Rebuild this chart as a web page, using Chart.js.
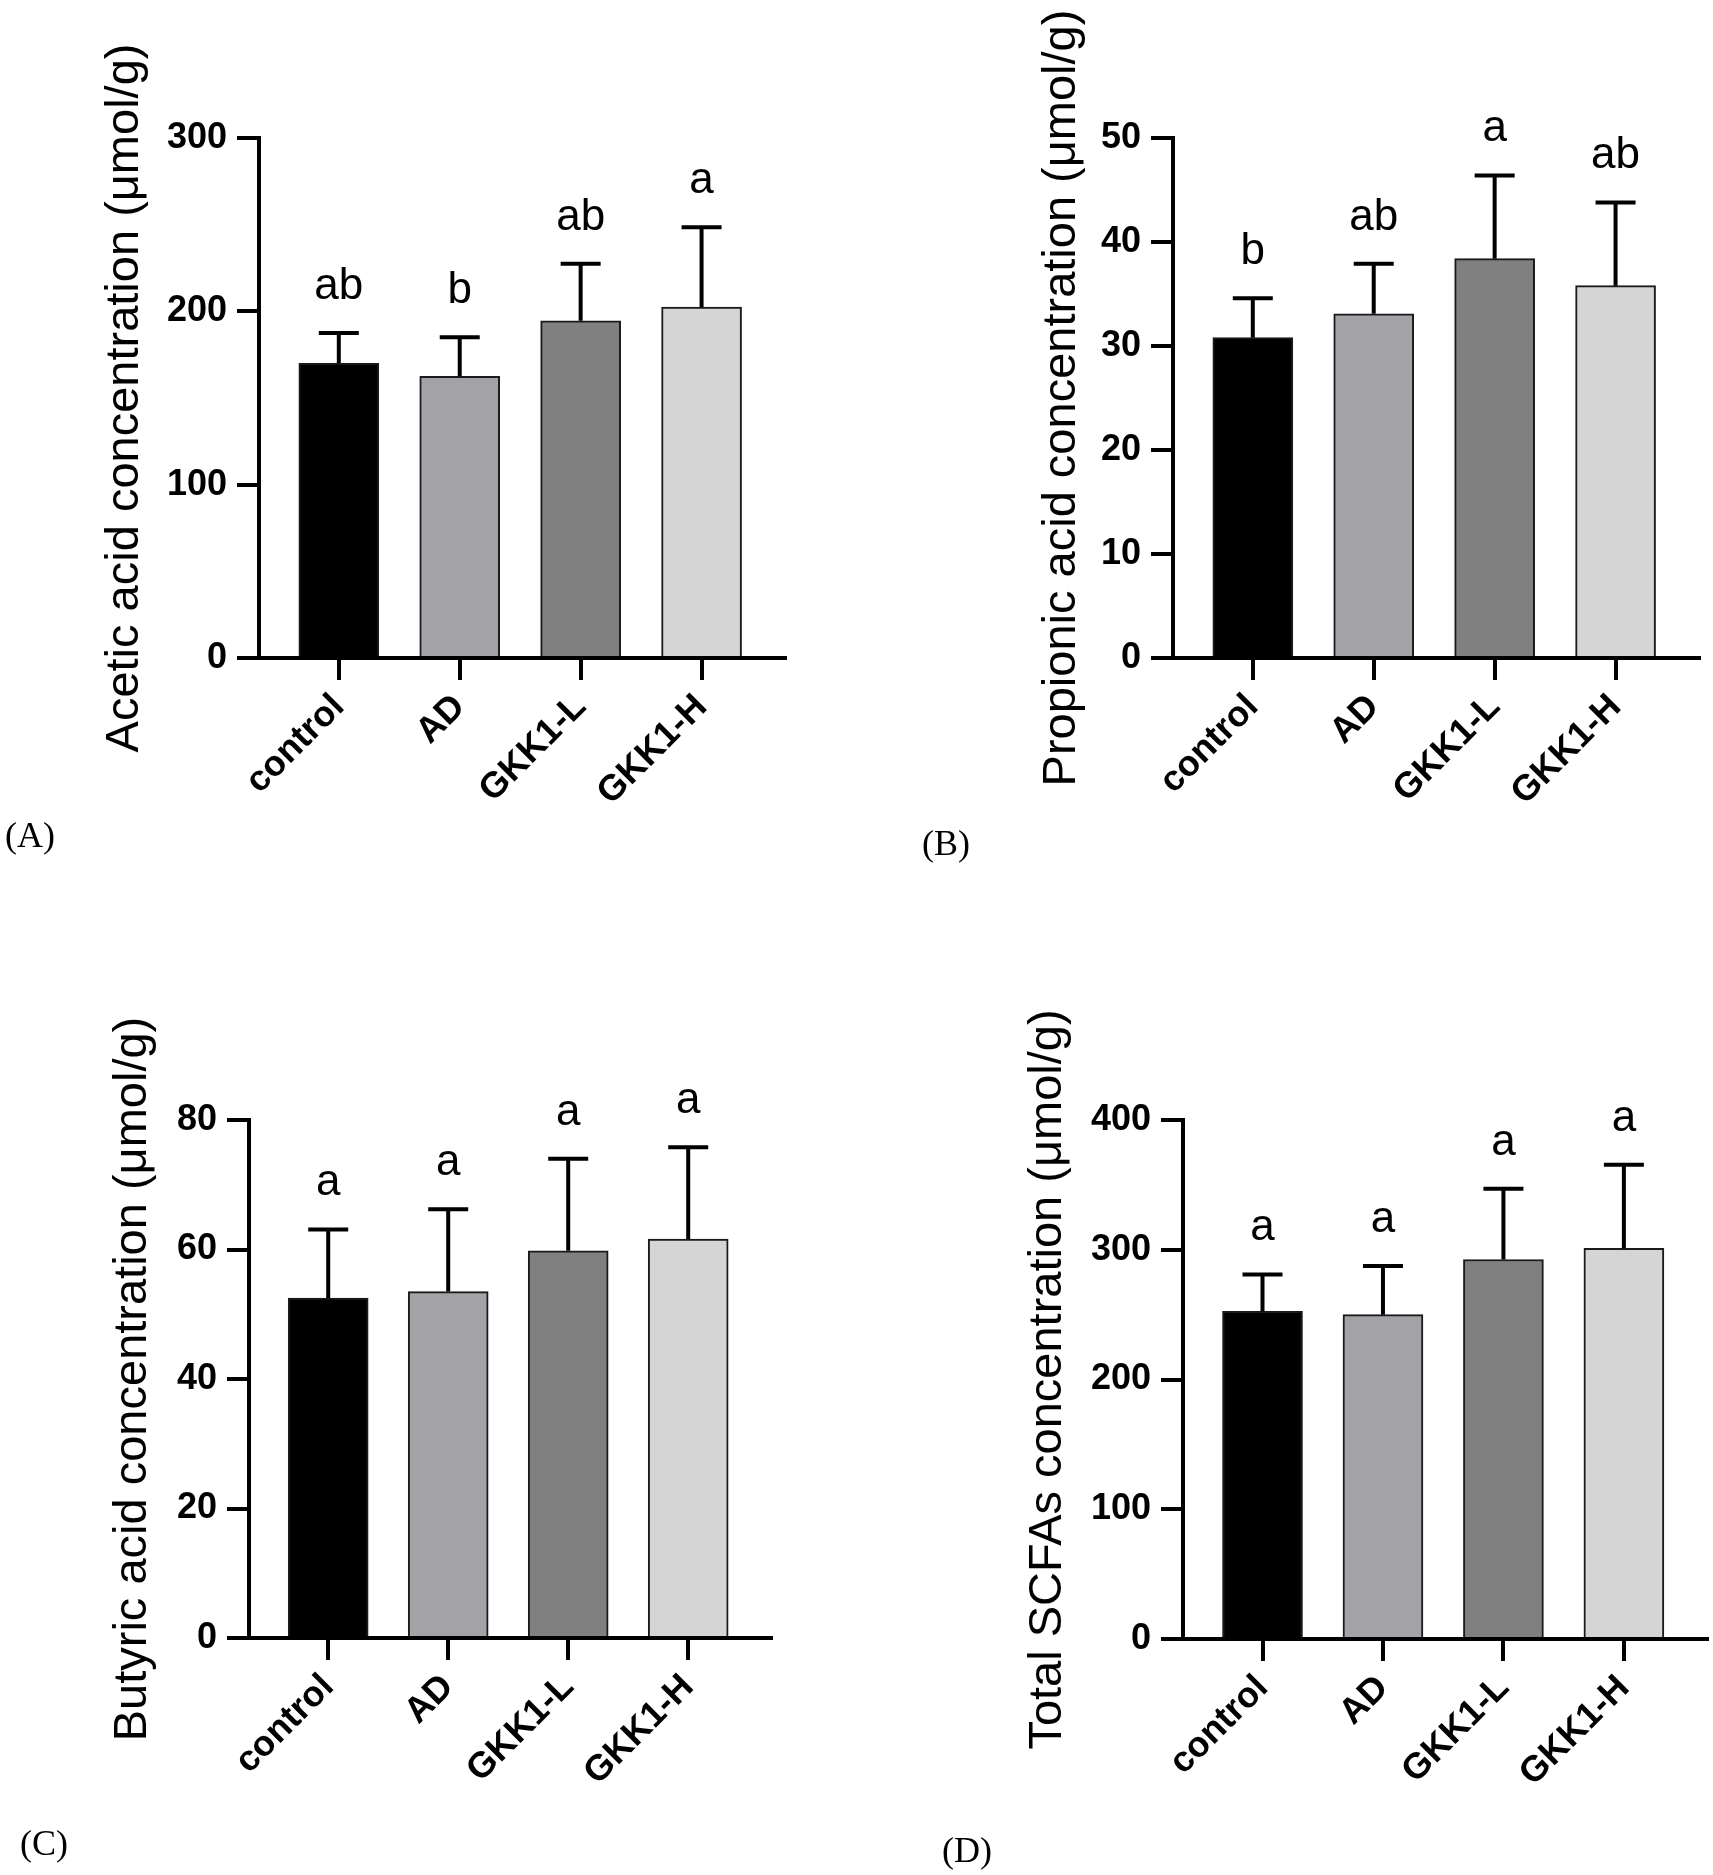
<!DOCTYPE html>
<html>
<head>
<meta charset="utf-8">
<script src="https://cdn.jsdelivr.net/npm/chart.js@4.4.1/dist/chart.umd.min.js"></script>
<style>
  html, body { margin: 0; padding: 0; background: #fff; }
  body { width: 1713px; height: 1875px; position: relative; overflow: hidden; }
  .panel { position: absolute; }
  .tag { position: absolute; font-family: "Liberation Serif", "Times New Roman", serif; font-size: 36px; line-height: 36px; color: #000; }
</style>
</head>
<body>
<div class="panel" style="left:0;top:0;width:856px;height:900px"><canvas id="chartA"></canvas></div>
<div class="panel" style="left:856px;top:0;width:857px;height:900px"><canvas id="chartB"></canvas></div>
<div class="panel" style="left:0;top:930px;width:856px;height:945px"><canvas id="chartC"></canvas></div>
<div class="panel" style="left:856px;top:930px;width:857px;height:945px"><canvas id="chartD"></canvas></div>
<div class="tag" style="left:5px;top:817px">(A)</div>
<div class="tag" style="left:922px;top:825px">(B)</div>
<div class="tag" style="left:20px;top:1825px">(C)</div>
<div class="tag" style="left:942px;top:1832px">(D)</div>
<script>
const categories = ["control", "AD", "GKK1-L", "GKK1-H"];
const barColors = ["#000000", "#a3a3a7", "#808080", "#d5d5d5"];

// values (mean and upper SD)
const aceticMean = [170, 162.5, 194.5, 202.5];
const aceticSD = [17.5, 22.5, 33, 46];
const aceticLetters = ["ab", "b", "ab", "a"];

const propionicMean = [30.8, 33.1, 38.4, 35.8];
const propionicSD = [3.8, 4.8, 8.0, 8.0];
const propionicLetters = ["b", "ab", "a", "ab"];

const butyricMean = [52.5, 53.5, 59.8, 61.6];
const butyricSD = [10.6, 12.7, 14.2, 14.2];
const butyricLetters = ["a", "a", "a", "a"];

const totalMean = [252.5, 250, 292.5, 301];
const totalSD = [28.5, 37.5, 54.5, 64.5];
const totalLetters = ["a", "a", "a", "a"];

const sans = "'Liberation Sans', Arial, sans-serif";

// error bars (upper only) and significance letters
const errorBarPlugin = {
  id: "errorBars",
  afterDatasetsDraw(chart) {
    const ctx = chart.ctx;
    const x = chart.scales.x, y = chart.scales.y;
    const ds = chart.data.datasets[0];
    ctx.save();
    ctx.strokeStyle = "#000";
    ctx.fillStyle = "#000";
    ctx.lineWidth = 4;
    ctx.font = "44px " + sans;
    ctx.textAlign = "center";
    ctx.textBaseline = "alphabetic";
    ds.data.forEach((pt, i) => {
      const px = x.getPixelForValue(pt.x);
      const yBar = y.getPixelForValue(pt.y);
      const yCap = y.getPixelForValue(pt.y + ds.sd[i]);
      ctx.beginPath();
      ctx.moveTo(px, yBar);
      ctx.lineTo(px, yCap);
      ctx.moveTo(px - 20, yCap);
      ctx.lineTo(px + 20, yCap);
      ctx.stroke();
      ctx.fillText(ds.letters[i], px, yCap - 34);
    });
    ctx.restore();
  }
};

function makeChart(id, box, area, mean, sd, letters, yMax, yStep, title, titlePad) {
  const W = box.w, H = box.h;
  const left = area.left - box.x, top = area.top - box.y;
  const right = area.right - box.x, bottom = area.bottom - box.y;
  return new Chart(document.getElementById(id), {
    type: "bar",
    data: {
      datasets: [{
        data: mean.map((v, i) => ({ x: i, y: v })),
        sd: sd,
        letters: letters,
        backgroundColor: barColors,
        borderColor: "#1a1a1a",
        borderWidth: 2,
        barThickness: 80,
      }],
    },
    options: {
      responsive: true,
      maintainAspectRatio: false,
      animation: false,
      layout: { padding: { left: 0, top: top, right: W - right, bottom: 0 } },
      plugins: { legend: { display: false }, tooltip: { enabled: false } },
      scales: {
        x: {
          type: "linear",
          min: -0.66,
          max: 3.69,
          offset: false,
          z: 1,
          afterBuildTicks: (s) => { s.ticks = categories.map((c, i) => ({ value: i })); },
          afterFit: (s) => { s.height = H - bottom; },
          grid: { offset: false, drawOnChartArea: false, tickLength: 22, tickWidth: 4, tickColor: "#000", lineWidth: 4, color: "#000" },
          border: { display: true, width: 4, color: "#000" },
          ticks: {
            autoSkip: false, minRotation: 45, maxRotation: 45, padding: 6, color: "#000",
            font: { family: sans, size: 36, weight: "bold" },
            callback: (v) => categories[v],
          },
        },
        y: {
          min: 0,
          max: yMax,
          z: 1,
          afterFit: (s) => { s.width = left; },
          grid: { drawOnChartArea: false, tickLength: 22, tickWidth: 4, tickColor: "#000", lineWidth: 4, color: "#000" },
          border: { display: true, width: 4, color: "#000" },
          ticks: { stepSize: yStep, padding: 10, color: "#000", font: { family: sans, size: 36, weight: "bold" } },
          title: {
            display: true, text: title, color: "#000",
            font: { family: sans, size: 47 },
            padding: { top: titlePad, bottom: 0 },
          },
        },
      },
    },
    plugins: [errorBarPlugin],
  });
}

makeChart("chartA", { x: 0, y: 0, w: 856, h: 900 }, { left: 259, top: 138, right: 785, bottom: 658 },
  aceticMean, aceticSD, aceticLetters, 300, 100, "Acetic acid concentration (\u03bcmol/g)", 97);
makeChart("chartB", { x: 856, y: 0, w: 857, h: 900 }, { left: 1173, top: 138, right: 1699, bottom: 658 },
  propionicMean, propionicSD, propionicLetters, 50, 10, "Propionic acid concentration (\u03bcmol/g)", 178);
makeChart("chartC", { x: 0, y: 930, w: 856, h: 945 }, { left: 249, top: 1120, right: 771, bottom: 1638 },
  butyricMean, butyricSD, butyricLetters, 80, 20, "Butyric acid concentration (\u03bcmol/g)", 105);
makeChart("chartD", { x: 856, y: 930, w: 857, h: 945 }, { left: 1183, top: 1120, right: 1707, bottom: 1639 },
  totalMean, totalSD, totalLetters, 400, 100, "Total SCFAs concentration (\u03bcmol/g)", 164);
</script>
</body>
</html>
